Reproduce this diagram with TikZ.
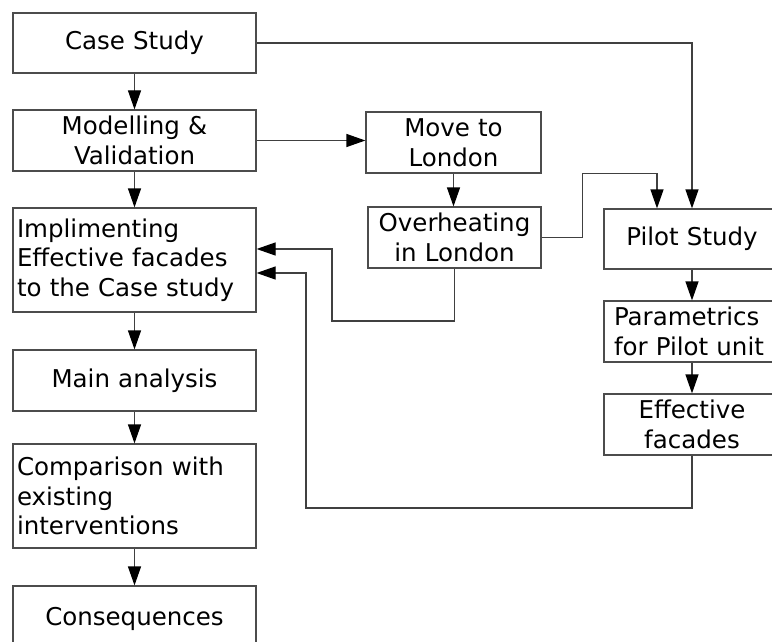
\documentclass[tikz,border=0pt]{standalone}
\usepackage{fontspec}
\newfontfamily\vfont{DejaVu Sans}
\usetikzlibrary{arrows.meta}
\begin{document}
\begin{tikzpicture}[x=1pt,y=-1pt,
  blk/.style={draw=black!70, line width=1.2pt, rectangle, inner xsep=4pt, inner ysep=0pt,
     font=\vfont\fontsize{24.5}{29.5}\selectfont, align=center},
  conn/.style={draw=black!75, line width=1.2pt, -{Triangle[length=19pt,width=13pt,color=black]}},
  plain/.style={draw=black!75, line width=1.2pt}
]
\useasboundingbox (0,0) rectangle (772,642);
\clip (0,0) rectangle (772,642);
\fill[white] (0,0) rectangle (772,642);
% left column
\node[blk, minimum width=243pt, minimum height=60pt, text width=235pt] (case) at (134.5,43) {Case Study};
\node[blk, minimum width=243pt, minimum height=61pt, text width=235pt] (model) at (134.5,140.5) {Modelling \&\\Validation};
\node[blk, minimum width=243pt, minimum height=104pt, text width=235pt, align=left] (impl) at (134.5,260) {Implimenting\\Effective facades\\to the Case study};
\node[blk, minimum width=243pt, minimum height=61pt, text width=235pt] (main) at (134.5,380.5) {Main analysis};
\node[blk, minimum width=243pt, minimum height=104pt, text width=235pt, align=left] (comp) at (134.5,496) {Comparison with\\existing\\interventions};
\node[blk, minimum width=243pt, minimum height=74pt, text width=235pt] (cons) at (134.5,623) {\raisebox{14pt}{Consequences}};
% middle column
\node[blk, minimum width=175pt, minimum height=61pt, text width=167pt] (move) at (453.5,142.5) {Move to\\London};
\node[blk, minimum width=173pt, minimum height=61pt, text width=165pt] (over) at (454.5,237.5) {Overheating\\in London};
% right column
\node[blk, minimum width=176pt, minimum height=60pt, text width=168pt] (pilot) at (692,239) {Pilot Study};
\node[blk, minimum width=176pt, minimum height=61pt, inner xsep=10pt, text width=156pt, align=left] (param) at (692,331.5) {Parametrics\\for Pilot unit};
\node[blk, minimum width=176pt, minimum height=61pt, text width=168pt] (eff) at (692,424.5) {Effective\\facades};
% helper coordinates
\coordinate (c1) at (332,321);
\coordinate (c2) at (306,508);
% connectors
\draw[conn] (case) -- (model);
\draw[conn] (model) -- (impl);
\draw[conn] (impl) -- (main);
\draw[conn] (main) -- (comp);
\draw[conn] (comp) -- (cons);
\draw[conn] (model.east) -- (model.east -| move.west);
\draw[conn] (move.south) -- (move.south |- over.north);
\draw[conn] (case.east) -| (pilot.north);
\draw[conn] (over.east) -- ++(41,0) coordinate (o1) -- (o1 |- move.south) -| ([xshift=-35pt]pilot.north);
\draw[conn] (pilot) -- (param);
\draw[conn] (param) -- (eff);
\draw[conn] (over.south) |- (c1) |- ([yshift=11pt]impl.east);
\draw[conn] (eff.south) |- (c2) |- ([yshift=-13pt]impl.east);
\end{tikzpicture}
\end{document}
